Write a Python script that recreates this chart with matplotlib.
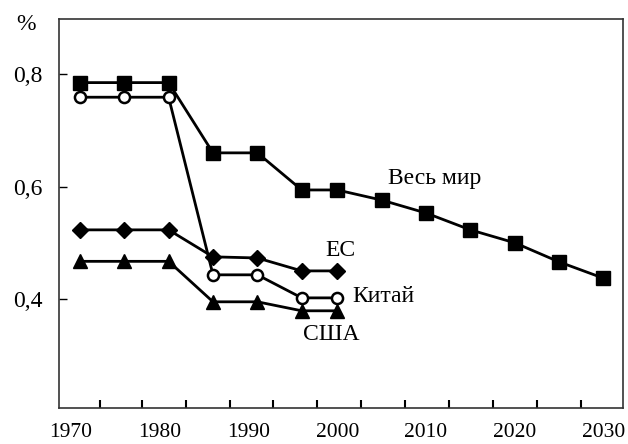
import matplotlib
matplotlib.use("Agg")
import matplotlib.pyplot as plt

years_world = [1971, 1976, 1981, 1986, 1991, 1996, 2000, 2005, 2010, 2015, 2020, 2025, 2030]
world = [0.785, 0.785, 0.785, 0.66, 0.66, 0.594, 0.594, 0.576, 0.553, 0.523, 0.50, 0.466, 0.437]

years_reg = [1971, 1976, 1981, 1986, 1991, 1996, 2000]
eu = [0.523, 0.523, 0.523, 0.475, 0.473, 0.45, 0.45]
china = [0.759, 0.759, 0.759, 0.443, 0.443, 0.402, 0.402]
usa = [0.467, 0.467, 0.467, 0.395, 0.395, 0.379, 0.379]

xtick_vals = [1970, 1980, 1990, 2000, 2010, 2020, 2030]
xtick_labels = ["1970", "1980", "1990", "2000", "2010", "2020", "2030"]
ytick_vals = [0.4, 0.6, 0.8]
ytick_labels = ["0,4", "0,6", "0,8"]
minor_x = [1973.3, 1978.0, 1983.0, 1987.9, 1992.8, 1997.7, 2002.7, 2007.6, 2012.6, 2017.5, 2022.5, 2027.5]

plt.rcParams['font.family'] = ['Liberation Serif', 'DejaVu Serif']

fig = plt.figure(figsize=(6.28, 4.44), dpi=100)
ax = fig.add_axes([0.094, 0.081, 0.898, 0.876])

lw = 2.0
ax.plot(years_world, world, color='black', lw=lw, marker='s', ms=10, mfc='black', mec='black', zorder=3)
ax.plot(years_reg, china, color='black', lw=lw, marker='o', ms=8, mfc='white', mec='black', mew=1.8, zorder=4)
ax.plot(years_reg, eu, color='black', lw=lw, marker='D', ms=8.5, mfc='black', mec='black', zorder=3)
ax.plot(years_reg, usa, color='black', lw=lw, marker='^', ms=10, mfc='black', mec='black', zorder=3)

ax.set_xlim(1968.65, 2032.2)
ax.set_ylim(0.206, 0.898)

ax.set_xticks(xtick_vals)
ax.set_xticklabels(xtick_labels, fontsize=15.5)
ax.set_xticks(minor_x, minor=True)
ax.tick_params(axis='x', which='major', length=0, pad=11)
ax.tick_params(axis='x', which='minor', direction='in', length=6, width=1.5)

ax.set_yticks(ytick_vals)
ax.set_yticklabels(ytick_labels, fontsize=17)
ax.tick_params(axis='y', which='major', direction='in', length=6, width=1.0, pad=12)

for s in ax.spines.values():
    s.set_linewidth(1.2)
    s.set_color('#333333')

ax.text(2011.0, 0.615, "Весь мир", fontsize=17, ha='center', va='center')
ax.text(2000.4, 0.487, "ЕС", fontsize=17, ha='center', va='center')
ax.text(2005.2, 0.404, "Китай", fontsize=17, ha='center', va='center')
ax.text(1999.3, 0.336, "США", fontsize=17, ha='center', va='center')

fig.text(26 / 628, 1 - 25 / 444, "%", fontsize=17, ha='center', va='center')

fig.savefig("out.png", dpi=100)
